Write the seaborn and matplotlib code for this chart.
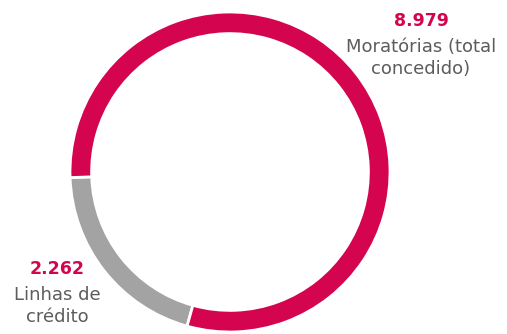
import matplotlib.pyplot as plt
import seaborn as sns

# dados
categorias = ['Linhas de\ncrédito', 'Moratórias (total\nconcedido)']
valores = [2262, 8979]
rotulos_valor = ['2.262', '8.979']

sns.set_style('white')
plt.rcParams['font.family'] = ['DejaVu Sans']

cores = ['#a3a3a3', '#d4044e']

fig = plt.figure(figsize=(5.07, 3.34), dpi=100)
ax = fig.add_axes([0, 0, 1, 1])

# anel (donut)
ax.pie(valores, colors=cores, startangle=182, counterclock=True,
       radius=1, wedgeprops=dict(width=0.135, edgecolor='white', linewidth=2))

# limites em "pixels" -> raio = 160 px, centro em (230, 172)
ax.set_xlim(-230 / 160, 277 / 160)
ax.set_ylim(-162 / 160, 172 / 160)
ax.set_aspect('equal')
ax.axis('off')

def px(x, y):
    return (x - 230) / 160, (172 - y) / 160

# posições dos rótulos (px)
pos_num = [(57, 269), (421, 21)]
pos_txt = [(57, 306), (421, 58)]

for i in range(len(valores)):
    ax.text(*px(*pos_num[i]), rotulos_valor[i], ha='center', va='center',
            fontsize=12.5, fontweight='bold', color='#d4044e')
    ax.text(*px(*pos_txt[i]), categorias[i], ha='center', va='center',
            fontsize=13, color='#5c5c5c', linespacing=1.35)

fig.savefig('out.png', dpi=100)
